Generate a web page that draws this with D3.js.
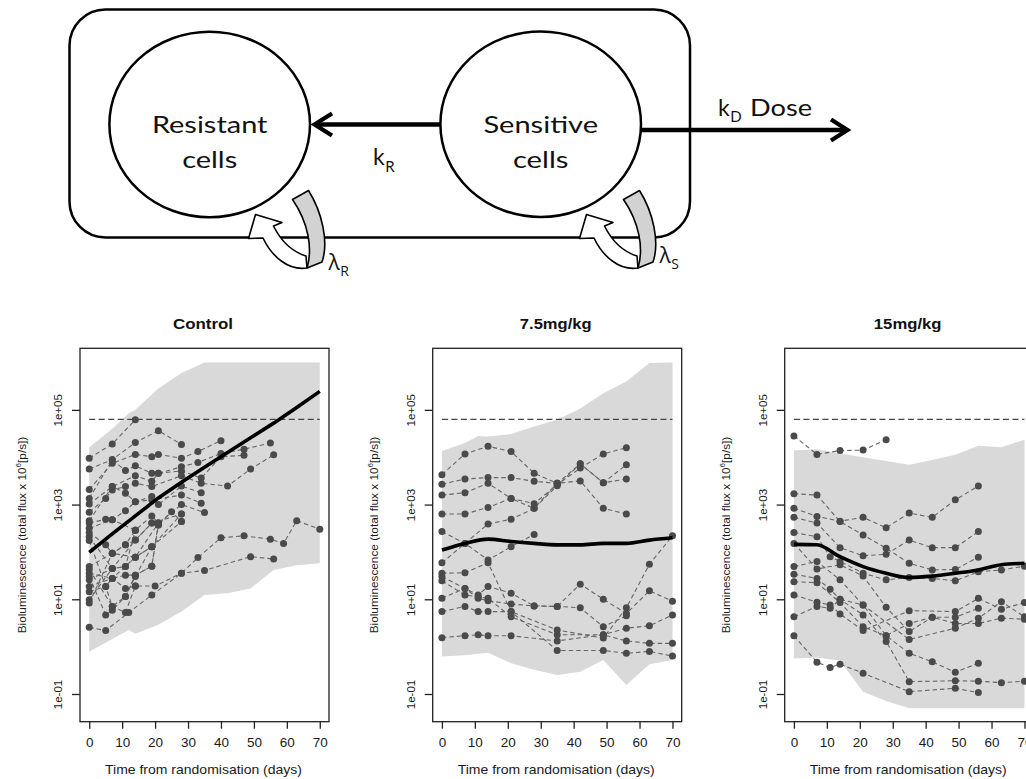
<!DOCTYPE html>
<html><head><meta charset="utf-8">
<script src="https://cdn.jsdelivr.net/npm/d3@7"></script>
<style>body{margin:0;background:#fff}svg{display:block}</style>
</head><body><svg id="chart" width="1026" height="779"></svg>
<script>
// ---------------- DATA (values are log10 of bioluminescence, x = day) ----------------
const xTicks = [0, 10, 20, 30, 40, 50, 60, 70];
const yTickExponents = [5, 3, 1, -1];
const yTickLabels = ["1e+05", "1e+03", "1e+01", "1e-01"];
const panelTitles = ["Control", "7.5mg/kg", "15mg/kg"];
const thresholdLog10 = 4.80;

const controlMean = [[0,1.99],[7,2.38],[14,2.76],[21,3.14],[28,3.47],[35,3.79],[42,4.10],[49,4.41],[56,4.72],[63,5.05],[70,5.39]];
const controlBandUpper = [[0,4.21],[7,4.60],[12,4.93],[14,5.00],[21,5.45],[28,5.78],[35,6.00],[70,6.00]];
const controlBandLower = [[0,-0.11],[7,0.16],[12,0.35],[14,0.27],[21,0.46],[28,0.74],[35,1.09],[42,1.13],[49,1.23],[56,1.62],[63,1.72],[70,1.76]];
const controlMice = [
  [[0,3.98],[7,4.28],[14,4.79]],
  [[0,3.75],[7,3.95],[14,4.31],[21,4.56],[28,4.27]],
  [[0,3.32],[7,3.87],[14,4.06],[19,4.01],[21,4.06],[28,3.98],[33,4.12],[40,4.35]],
  [[0,3.13],[7,3.94],[11,3.72],[14,3.82],[19,3.66],[21,3.66],[28,3.80],[33,3.89],[40,4.08],[47,4.17],[55,4.30]],
  [[0,3.01],[7,3.38],[14,3.61],[19,3.49],[21,3.66],[28,3.71],[34,3.56],[40,4.01],[47,4.04]],
  [[0,2.84],[5,3.13],[7,3.31],[11,3.38],[14,3.45],[19,3.38],[28,3.61],[34,3.45],[42,3.39],[49,3.75],[56,4.05]],
  [[0,2.66],[7,3.38],[11,3.24],[14,3.06],[19,3.17],[21,3.00],[28,3.39],[34,3.25]],
  [[0,2.61],[5,2.69],[7,2.68],[11,2.87],[14,3.06],[19,3.10],[28,3.20],[34,3.03]],
  [[0,2.50],[7,2.68],[14,2.46],[19,2.76],[21,2.61],[28,3.00],[35,2.83]],
  [[0,2.41],[5,2.15],[7,1.97],[11,2.15],[14,2.25],[19,2.61],[21,2.57],[25,2.85],[28,2.64]],
  [[0,2.32],[7,1.65],[11,1.69],[14,1.89],[19,2.11],[28,2.80]],
  [[0,2.24],[5,1.27],[7,1.44],[11,1.51],[14,1.51],[19,1.70],[21,2.57]],
  [[0,1.69],[7,1.97],[14,1.89],[21,2.61]],
  [[0,1.63],[7,0.85],[11,1.06],[14,1.48],[19,2.11]],
  [[0,1.55],[7,1.44],[11,1.23],[14,1.28],[20,1.28],[28,1.55],[35,1.61],[49,1.90],[56,1.85]],
  [[0,1.48],[5,0.67],[7,0.77],[11,1.06],[14,1.51],[19,1.70],[21,2.61]],
  [[0,1.41],[7,1.65],[11,1.69],[14,2.46]],
  [[0,1.27],[7,1.44],[14,1.89],[19,2.11],[28,2.64]],
  [[0,1.16],[5,1.27],[7,0.85],[11,0.72],[14,1.28]],
  [[0,0.99],[7,1.65],[14,2.25],[19,2.61],[28,2.80]],
  [[0,0.92],[7,1.97],[11,2.15],[14,2.46]],
  [[0,0.41],[5,0.34],[12,0.72],[19,1.09],[28,1.55],[33,1.88],[40,2.30],[47,2.34],[55,2.27],[59,2.18],[63,2.66],[70,2.48]]
];

const mg75Mean = [[0,2.04],[7,2.18],[14,2.27],[21,2.22],[28,2.18],[35,2.15],[42,2.15],[49,2.18],[56,2.18],[63,2.25],[70,2.30]];
const mg75BandUpper = [[0,4.13],[7,4.30],[11,4.45],[14,4.44],[21,4.49],[28,4.65],[35,4.79],[42,5.03],[49,5.35],[56,5.60],[63,5.99],[70,6.00]];
const mg75BandLower = [[0,-0.21],[7,-0.18],[14,-0.13],[21,-0.35],[28,-0.49],[35,-0.60],[42,-0.53],[49,-0.28],[56,-0.81],[63,-0.37],[70,-0.28]];
const mg75Mice = [
  [[0,3.63],[7,4.07],[14,4.23],[21,4.12],[28,3.66],[35,3.45],[42,3.86],[49,3.46],[56,3.84]],
  [[0,3.43],[7,3.54],[14,3.57],[21,3.57],[28,3.49],[35,3.45],[42,3.50],[49,2.92],[56,2.80]],
  [[0,3.20],[7,3.25],[14,3.45],[21,3.13],[28,3.02],[35,3.42],[42,3.77],[49,4.07],[56,4.20]],
  [[0,2.80],[7,2.80],[14,2.94],[21,3.13],[28,2.92],[35,3.40],[42,3.86],[49,3.46],[56,3.54]],
  [[0,2.43],[7,2.18],[14,1.83],[21,2.11],[28,2.37]],
  [[0,1.77],[7,2.18],[14,2.59],[21,2.69],[28,2.92],[35,3.45]],
  [[0,1.55],[7,1.56],[14,1.77],[21,0.74],[35,0.35],[49,0.18],[56,0.82],[63,1.74],[70,2.34]],
  [[0,1.48],[7,1.23],[11,1.09],[14,1.27],[21,1.13],[28,0.86],[35,0.85],[42,1.32],[49,1.00],[56,0.70],[63,1.18],[70,0.96]],
  [[0,1.39],[7,1.09],[11,1.05],[14,1.02],[21,0.63],[35,0.25],[49,0.25],[56,0.39],[63,0.44],[70,0.67]],
  [[0,1.02],[7,1.23],[11,1.02],[14,0.97],[21,0.90],[28,0.86],[35,0.85],[42,0.82],[49,0.42],[56,0.65]],
  [[0,0.74],[7,0.85],[11,0.74],[14,0.74],[21,0.74],[35,-0.08],[49,-0.08],[56,-0.14],[63,-0.10],[70,-0.20]],
  [[0,0.19],[7,0.23],[11,0.25],[14,0.23],[21,0.23],[35,0.12],[49,0.25],[56,0.12],[63,0.07],[70,0.07]]
];

const mg15Mean = [[0,2.16],[7,2.15],[14,1.90],[21,1.69],[28,1.55],[35,1.46],[42,1.49],[49,1.55],[56,1.62],[63,1.73],[70,1.76]];
const mg15BandUpper = [[0,4.14],[7,4.17],[14,4.08],[21,4.00],[35,3.84],[42,3.94],[49,4.05],[56,4.24],[63,4.21],[70,4.37]];
const mg15BandLower = [[0,-0.25],[7,-0.23],[14,-0.30],[21,-0.95],[28,-1.15],[35,-1.30],[70,-1.30]];
const mg15Mice = [
  [[0,4.45],[7,4.06],[14,4.14],[21,4.15],[28,4.37]],
  [[0,3.23],[7,3.20],[14,2.64],[21,2.36],[28,2.08],[35,1.76],[42,1.62],[49,1.63],[56,1.89]],
  [[0,2.92],[7,2.75],[14,2.65],[21,2.73],[28,2.51],[35,2.82],[42,2.73],[49,3.10],[56,3.39]],
  [[0,2.73],[7,2.61],[14,2.09],[21,1.92],[28,1.95],[35,2.25],[42,2.09],[49,2.09],[56,2.43]],
  [[0,2.41],[7,2.32],[11,1.90],[14,1.80],[21,1.55],[28,1.41],[35,1.46],[42,1.44],[49,1.39],[56,1.58],[63,1.62],[70,1.70]],
  [[0,2.18],[7,1.64],[14,1.73],[21,1.49],[28,0.83],[35,0.32],[42,0.62],[49,0.62],[56,0.81]],
  [[0,1.69],[7,1.80],[14,1.41],[21,0.88],[28,0.23],[35,-0.14],[42,-0.32],[49,-0.54],[56,-0.35]],
  [[0,1.53],[7,1.44],[11,1.21],[14,1.00],[21,0.67],[28,0.11],[35,-0.74],[49,-0.72],[56,-0.73],[63,-0.76],[70,-0.73]],
  [[0,1.37],[7,1.35],[14,0.93],[21,0.42],[28,0.23],[35,0.49],[42,0.62],[49,0.49],[56,0.49],[63,0.60],[70,0.58]],
  [[0,1.09],[7,0.94],[11,0.88],[14,0.69],[21,0.34],[35,0.76],[49,0.74],[56,1.02],[63,0.79],[70,0.93]],
  [[0,0.63],[7,0.85],[11,0.81],[14,1.00],[21,0.88],[35,0.15],[49,0.39],[56,0.60],[63,0.95],[70,0.63]],
  [[0,0.23],[7,-0.33],[11,-0.44],[14,-0.37],[21,-0.56],[35,-0.95],[49,-0.88],[56,-0.97]]
];

// ---------------- DRAWING ----------------
const svg = d3.select("#chart");
const FONT = "'Liberation Sans', Arial, sans-serif";

// ===== Model diagram =====
const dg = svg.append("g");
dg.append("rect").attr("x",69.5).attr("y",9.5).attr("width",620.5).attr("height",228)
  .attr("rx",36).attr("fill","none").attr("stroke","#000").attr("stroke-width",2.5);
const cellNodes = [
  {cx:209.7, cy:124.5, l1:"Resistant", l2:"cells", w1:115.6, w2:55},
  {cx:540.7, cy:124.2, l1:"Sensitive", l2:"cells", w1:114.6, w2:55.6}
];
cellNodes.forEach(n => {
  dg.append("ellipse").attr("cx",n.cx).attr("cy",n.cy).attr("rx",100.3).attr("ry",92.8)
    .attr("fill","#fff").attr("stroke","#000").attr("stroke-width",2.5);
  dg.append("text").attr("x",n.cx).attr("y",133.3).attr("text-anchor","middle")
    .attr("font-family","Lato, 'Open Sans', sans-serif").attr("font-size",23)
    .attr("textLength",n.w1).attr("lengthAdjust","spacingAndGlyphs").attr("fill","#111").text(n.l1);
  dg.append("text").attr("x",n.cx).attr("y",168.3).attr("text-anchor","middle")
    .attr("font-family","Lato, 'Open Sans', sans-serif").attr("font-size",23)
    .attr("textLength",n.w2).attr("lengthAdjust","spacingAndGlyphs").attr("fill","#111").text(n.l2);
});
// arrow Sensitive -> Resistant
dg.append("line").attr("x1",441).attr("y1",124.5).attr("x2",316).attr("y2",124.5).attr("stroke","#000").attr("stroke-width",4.5);
dg.append("polyline").attr("points","332,113.5 314.5,124.5 332,135.5").attr("fill","none").attr("stroke","#000").attr("stroke-width",4.2).attr("stroke-linejoin","miter");
// arrow dose out
dg.append("line").attr("x1",641).attr("y1",130).attr("x2",845).attr("y2",130).attr("stroke","#000").attr("stroke-width",4.5);
dg.append("polyline").attr("points","831,119.5 847.5,130 831,140.5").attr("fill","none").attr("stroke","#000").attr("stroke-width",4.2);

function labelSub(x, y, main, sub, size, subSize, subDx, subDy, fam) {
  const t = dg.append("text").attr("x",x).attr("y",y).attr("font-family",fam).attr("font-size",size).attr("fill","#111");
  t.append("tspan").text(main);
  t.append("tspan").attr("font-size",subSize).attr("dx",subDx).attr("dy",subDy).text(sub);
  return t;
}
labelSub(373, 165, "k", "R", 23, 15, 0.5, 6.5, "Lato, 'Open Sans', sans-serif");
labelSub(718, 115.5, "k", "D", 23, 15, 0.5, 6.5, "Lato, 'Open Sans', sans-serif");
dg.append("text").attr("x",750).attr("y",115.5).attr("font-family","Lato, 'Open Sans', sans-serif").attr("font-size",23)
  .attr("textLength",62).attr("lengthAdjust","spacingAndGlyphs").attr("fill","#111").text("Dose");
labelSub(328.5, 270, "λ", "R", 21, 14, 0.5, 6, "'Open Sans', 'DejaVu Sans', sans-serif");
labelSub(659.5, 263, "λ", "S", 21, 14, 0.5, 5.5, "'Open Sans', 'DejaVu Sans', sans-serif");

// self-renewal curved arrows
[0, 331].forEach(dx => {
  const g = dg.append("g").attr("transform",`translate(${dx},0)`);
  g.append("path")
    .attr("d","M307,268 C289,271 272,257 263,238 L248.5,238.5 L255.5,214.5 L282,222.5 L273.5,226 C281,241 293,252 306,256 Z")
    .attr("fill","#fff").attr("stroke","#000").attr("stroke-width",1.6).attr("stroke-linejoin","round");
  g.append("path")
    .attr("d","M292.5,199.5 L308.5,190.5 C322,212 329,242 322,262 L307,268 C313,248 308,222 292.5,199.5 Z")
    .attr("fill","#d2d2d2").attr("stroke","#000").attr("stroke-width",1.6).attr("stroke-linejoin","round");
});

// ===== Panels =====
const panelLefts = [80, 432.7, 784.7];
const PTOP = 348.3, PW = 249, PH = 373.4;
const panels = [
  {mice: controlMice, mean: controlMean, up: controlBandUpper, lo: controlBandLower, meanCurve: d3.curveLinear, tw: 60},
  {mice: mg75Mice, mean: mg75Mean, up: mg75BandUpper, lo: mg75BandLower, meanCurve: d3.curveMonotoneX, tw: 71.7},
  {mice: mg15Mice, mean: mg15Mean, up: mg15BandUpper, lo: mg15BandLower, meanCurve: d3.curveMonotoneX, tw: 67.7}
];

panels.forEach((p, i) => {
  const left = panelLefts[i];
  const x = d3.scaleLinear().domain([-2.8, 72.8]).range([left, left + PW]);
  const y = d3.scaleLog().domain([Math.pow(10,-1.585), Math.pow(10,6.30)]).range([PTOP + PH, PTOP]);
  const g = svg.append("g");
  const clipId = "clip" + i;
  g.append("clipPath").attr("id", clipId).append("rect")
    .attr("x", left).attr("y", PTOP).attr("width", PW).attr("height", PH);
  const inner = g.append("g").attr("clip-path", `url(#${clipId})`);

  // prediction band
  const bandPts = p.up.map(d => [d[0], d[1]]).concat(p.lo.slice().reverse());
  inner.append("path")
    .attr("d", d3.line().x(d => x(d[0])).y(d => y(Math.pow(10, d[1])))(bandPts) + "Z")
    .attr("fill", "#d9d9d9").attr("stroke", "none");

  // threshold
  inner.append("line").attr("x1", x(0)).attr("x2", x(70))
    .attr("y1", y(Math.pow(10, thresholdLog10))).attr("y2", y(Math.pow(10, thresholdLog10)))
    .attr("stroke", "#444").attr("stroke-width", 1.3).attr("stroke-dasharray", "6,3.5");

  // individual mice
  const ln = d3.line().x(d => x(d[0])).y(d => y(Math.pow(10, d[1])));
  p.mice.forEach(s => {
    inner.append("path").attr("d", ln(s)).attr("fill", "none")
      .attr("stroke", "#666").attr("stroke-width", 1.1).attr("stroke-dasharray", "4.5,3");
  });
  p.mice.forEach(s => {
    inner.selectAll(null).data(s).enter().append("circle")
      .attr("cx", d => x(d[0])).attr("cy", d => y(Math.pow(10, d[1])))
      .attr("r", 3.5).attr("fill", "#4a4a4a");
  });

  // mean prediction
  inner.append("path").attr("d", d3.line().curve(p.meanCurve).x(d => x(d[0])).y(d => y(Math.pow(10, d[1])))(p.mean))
    .attr("fill", "none").attr("stroke", "#000").attr("stroke-width", 3.6);

  // box
  g.append("rect").attr("x", left).attr("y", PTOP).attr("width", PW).attr("height", PH)
    .attr("fill", "none").attr("stroke", "#222").attr("stroke-width", 1.3);

  // x axis
  const xa = g.append("g").attr("transform", `translate(0,${PTOP + PH})`)
    .call(d3.axisBottom(x).tickValues(xTicks).tickSize(7).tickPadding(9).tickFormat(d3.format("d")));
  xa.select(".domain").remove();
  xa.selectAll("line").attr("stroke", "#222").attr("stroke-width", 1.3);
  xa.selectAll("text").attr("font-family", FONT).attr("font-size", 13.5).attr("fill", "#1a1a1a");

  // y axis
  const ya = g.append("g").attr("transform", `translate(${left},0)`)
    .call(d3.axisLeft(y).tickValues(yTickExponents.map(e => Math.pow(10, e))).tickSize(8)
      .tickFormat((d, k) => yTickLabels[k]));
  ya.select(".domain").remove();
  ya.selectAll("line").attr("stroke", "#222").attr("stroke-width", 1.3);
  ya.selectAll("text").attr("x", null).attr("dy", null)
    .attr("transform", "translate(-18,0) rotate(-90)").attr("text-anchor", "middle")
    .attr("font-family", FONT).attr("font-size", 11.5).attr("fill", "#1a1a1a");

  // title
  g.append("text").attr("x", left + PW / 2 - 1.5).attr("y", 329).attr("text-anchor", "middle")
    .attr("font-family", FONT).attr("font-weight", "bold").attr("font-size", 15)
    .attr("textLength", p.tw).attr("lengthAdjust", "spacingAndGlyphs").attr("fill", "#111").text(panelTitles[i]);

  // x title
  g.append("text").attr("x", left + PW / 2 - 1).attr("y", 774).attr("text-anchor", "middle")
    .attr("font-family", FONT).attr("font-size", 13)
    .attr("textLength", 197).attr("lengthAdjust", "spacingAndGlyphs").attr("fill", "#1a1a1a")
    .text("Time from randomisation (days)");

  // y title
  const yt = g.append("text").attr("transform", `translate(${left - 54.5},${PTOP + PH / 2}) rotate(-90)`)
    .attr("text-anchor", "middle").attr("font-family", FONT).attr("font-size", 11.8).attr("fill", "#1a1a1a");
  yt.append("tspan").text("Bioluminescence (total flux x 10");
  yt.append("tspan").attr("font-size", 8).attr("dy", -5).text("6");
  yt.append("tspan").attr("dy", 5).text("[p/s])");
});
</script>
</body></html>
